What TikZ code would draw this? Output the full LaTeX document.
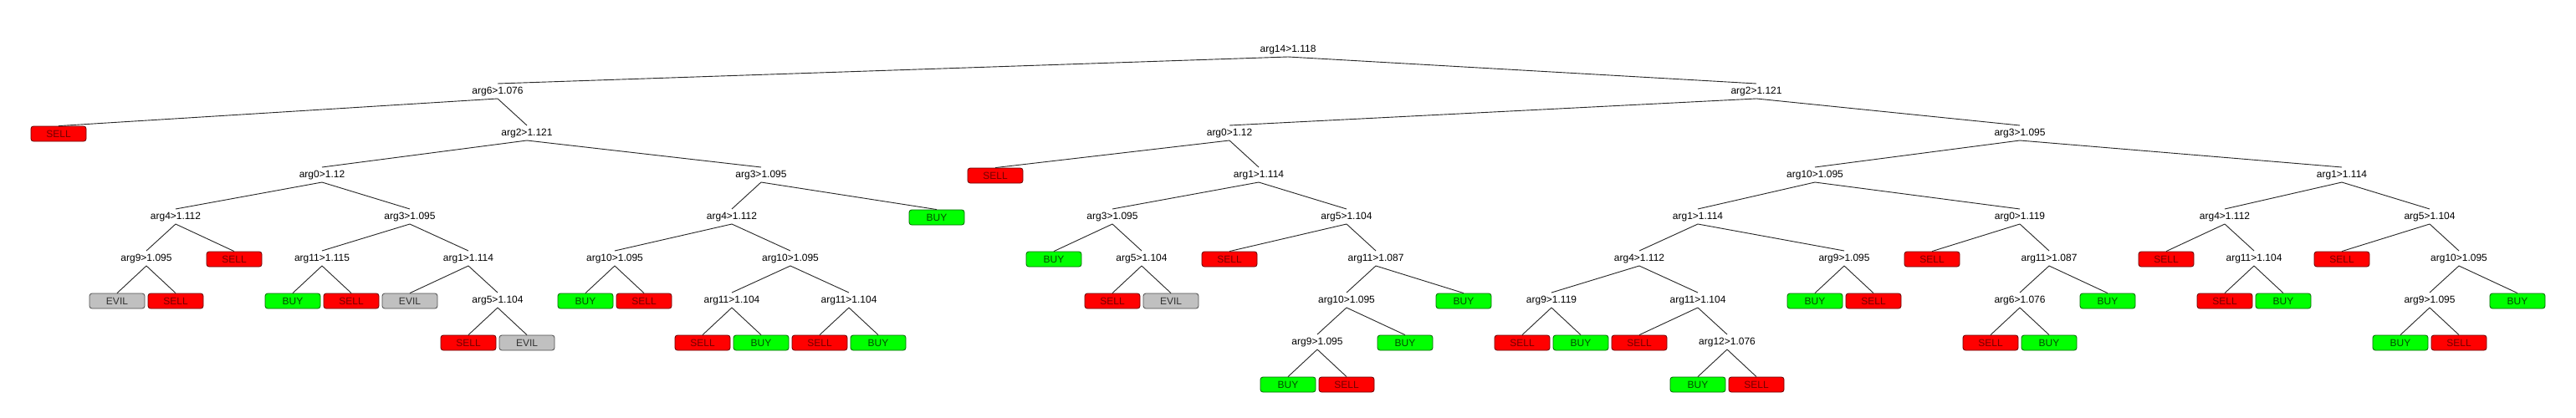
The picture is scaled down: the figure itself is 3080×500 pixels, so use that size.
\documentclass[tikz,border=0pt]{standalone}
\usepackage{fontspec}
\setmainfont{Liberation Sans}
\definecolor{sellred}{RGB}{255,0,0}
\definecolor{buygreen}{RGB}{0,255,0}
\definecolor{evilgray}{RGB}{192,192,192}
\tikzset{
  split/.style={font=\fontsize{12}{14}\selectfont, inner sep=0pt, text=black},
  leafbox/.style={draw=#1!40!black, fill=#1, rounded corners=3pt, minimum width=66pt,
    minimum height=18pt, inner sep=0pt, line width=0.8pt, font=\fontsize{12}{14}\selectfont},
  SELL/.style={leafbox=sellred, text=sellred!45!black},
  BUY/.style={leafbox=buygreen, text=buygreen!30!black},
  EVIL/.style={leafbox=evilgray, text=black!80},
  edge/.style={line width=0.9pt, draw=black!85}
}
\begin{document}
\begin{tikzpicture}[x=1pt,y=-1pt]
\fill[white] (0,0) rectangle (3080,500);
\useasboundingbox (0,0) rectangle (3080,500);
% internal (split) nodes
\foreach \n/\c/\l/\t in {
  r/22/0/arg14>1.118,
  a/8.5/1/arg6>1.076, b/30/1/arg2>1.121,
  a2/9/2/arg2>1.121,
  a21/5.5/3/arg0>1.12, a211/3/4/arg4>1.112, a2111/2.5/5/arg9>1.095,
  a212/7/4/arg3>1.095, a2121/5.5/5/arg11>1.115, a2122/8/5/arg1>1.114, a21222/8.5/6/arg5>1.104,
  a22/13/3/arg3>1.095, a221/12.5/4/arg4>1.112, a2211/10.5/5/arg10>1.095, a2212/13.5/5/arg10>1.095,
  a22121/12.5/6/arg11>1.104, a22122/14.5/6/arg11>1.104,
  b1/21/2/arg0>1.12, b12/21.5/3/arg1>1.114, b121/19/4/arg3>1.095, b1212/19.5/5/arg5>1.104,
  b122/23/4/arg5>1.104, b1222/23.5/5/arg11>1.087, b12221/23/6/arg10>1.095, b122211/22.5/7/arg9>1.095,
  b2/34.5/2/arg3>1.095, b21/31/3/arg10>1.095, b211/29/4/arg1>1.114, b2111/28/5/arg4>1.112,
  b21111/26.5/6/arg9>1.119, b21112/29/6/arg11>1.104, b211122/29.5/7/arg12>1.076,
  b2112/31.5/5/arg9>1.095, b212/34.5/4/arg0>1.119, b2122/35/5/arg11>1.087, b21221/34.5/6/arg6>1.076,
  b22/40/3/arg1>1.114, b221/38/4/arg4>1.112, b2212/38.5/5/arg11>1.104,
  b222/41.5/4/arg5>1.104, b2222/42/5/arg10>1.095, b22221/41.5/6/arg9>1.095}
  \node[split] (\n) at ({70*\c},{60+50*\l}) {\t};
% leaves
\foreach \n/\c/\l/\t in {
  l1/1/2/SELL, l2/2/6/EVIL, l3/3/6/SELL, l4/4/5/SELL, l5/5/6/BUY, l6/6/6/SELL, l7/7/6/EVIL,
  l8/8/7/SELL, l9/9/7/EVIL, l10/10/6/BUY, l11/11/6/SELL, l12/12/7/SELL, l13/13/7/BUY,
  l14/14/7/SELL, l15/15/7/BUY, l16/16/4/BUY, l17/17/3/SELL, l18/18/5/BUY, l19/19/6/SELL,
  l20/20/6/EVIL, l21/21/5/SELL, l22/22/8/BUY, l23/23/8/SELL, l24/24/7/BUY, l25/25/6/BUY,
  l26/26/7/SELL, l27/27/7/BUY, l28/28/7/SELL, l29/29/8/BUY, l30/30/8/SELL, l31/31/6/BUY,
  l32/32/6/SELL, l33/33/5/SELL, l34/34/7/SELL, l35/35/7/BUY, l36/36/6/BUY, l37/37/5/SELL,
  l38/38/6/SELL, l39/39/6/BUY, l40/40/5/SELL, l41/41/7/BUY, l42/42/7/SELL, l43/43/6/BUY}
  \node[\t] (\n) at ({70*\c},{60+50*\l}) {\t};
% edges to split nodes
\foreach \p/\q in {
  r/a, r/b, a/a2, a2/a21, a2/a22, a21/a211, a21/a212, a211/a2111, a212/a2121, a212/a2122,
  a2122/a21222, a22/a221, a221/a2211, a221/a2212, a2212/a22121, a2212/a22122,
  b/b1, b/b2, b1/b12, b12/b121, b12/b122, b121/b1212, b122/b1222, b1222/b12221, b12221/b122211,
  b2/b21, b2/b22, b21/b211, b21/b212, b211/b2111, b211/b2112, b2111/b21111, b2111/b21112,
  b21112/b211122, b212/b2122, b2122/b21221, b22/b221, b22/b222, b221/b2212, b222/b2222, b2222/b22221}
  \draw[edge] ([yshift=-8pt]\p.center) -- ([yshift=10pt]\q.center);
% edges to leaves
\foreach \p/\q in {
  a/l1, a2111/l2, a2111/l3, a211/l4, a2121/l5, a2121/l6, a2122/l7, a21222/l8, a21222/l9,
  a2211/l10, a2211/l11, a22121/l12, a22121/l13, a22122/l14, a22122/l15, a22/l16,
  b1/l17, b121/l18, b1212/l19, b1212/l20, b122/l21, b122211/l22, b122211/l23, b12221/l24,
  b1222/l25, b21111/l26, b21111/l27, b21112/l28, b211122/l29, b211122/l30, b2112/l31,
  b2112/l32, b212/l33, b21221/l34, b21221/l35, b2122/l36, b221/l37, b2212/l38, b2212/l39,
  b222/l40, b22221/l41, b22221/l42, b2222/l43}
  \draw[edge] ([yshift=-8pt]\p.center) -- (\q.north);
\end{tikzpicture}
\end{document}
